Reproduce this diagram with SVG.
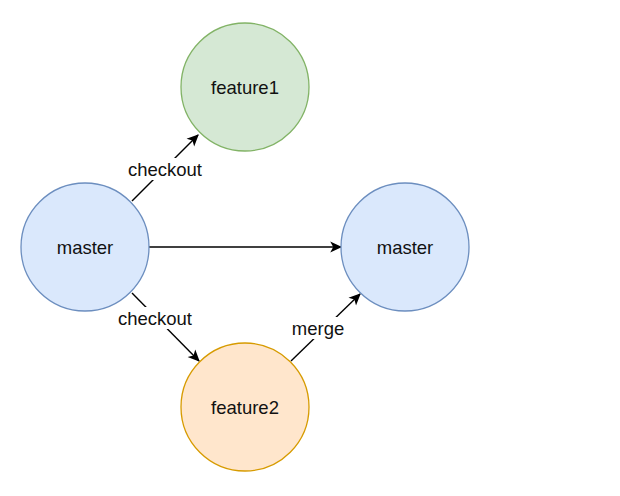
<svg xmlns="http://www.w3.org/2000/svg" width="620" height="496" viewBox="0 0 620 496">
<defs>
<marker id="arr" viewBox="0 0 10 10" refX="9" refY="5" markerWidth="12" markerHeight="12" markerUnits="userSpaceOnUse" orient="auto">
<path d="M0,0.5 L10,5 L0,9.5 L2.5,5 Z" fill="#000"/>
</marker>
<style>
text{font-family:"Liberation Sans",Arial,Helvetica,sans-serif;font-size:18.5px;fill:#111;text-anchor:middle}
.e{stroke:#000;stroke-width:1.4;fill:none}
.lb{fill:#fff}
.blue{fill:#dae8fc;stroke:#6c8ebf;stroke-width:1.3}
.green{fill:#d5e8d4;stroke:#82b366;stroke-width:1.3}
.orange{fill:#ffe6cc;stroke:#d79b00;stroke-width:1.3}
</style>
</defs>
<rect width="620" height="496" fill="#fff"/>
<g id="edges">
<line class="e" x1="132" y1="201" x2="198" y2="135" marker-end="url(#arr)"/>
<line class="e" x1="149" y1="247" x2="341" y2="247" marker-end="url(#arr)"/>
<line class="e" x1="132" y1="293" x2="199" y2="361" marker-end="url(#arr)"/>
<line class="e" x1="291" y1="361" x2="360" y2="294" marker-end="url(#arr)"/>
<rect class="lb" x="126" y="158" width="78" height="22"/>
<text x="165" y="176">checkout</text>
<rect class="lb" x="116" y="307" width="78" height="22"/>
<text x="155" y="325">checkout</text>
<rect class="lb" x="290" y="317" width="56" height="22"/>
<text x="318" y="335">merge</text>
</g>
<g id="feature1">
<circle class="green" cx="245" cy="87" r="64"/>
<text x="245" y="93.5">feature1</text>
</g>
<g id="master1">
<circle class="blue" cx="85" cy="247" r="64"/>
<text x="85" y="253.5">master</text>
</g>
<g id="master2">
<circle class="blue" cx="405" cy="247" r="64"/>
<text x="405" y="253.5">master</text>
</g>
<g id="feature2">
<circle class="orange" cx="245" cy="407" r="64"/>
<text x="245" y="413.5">feature2</text>
</g>
</svg>
